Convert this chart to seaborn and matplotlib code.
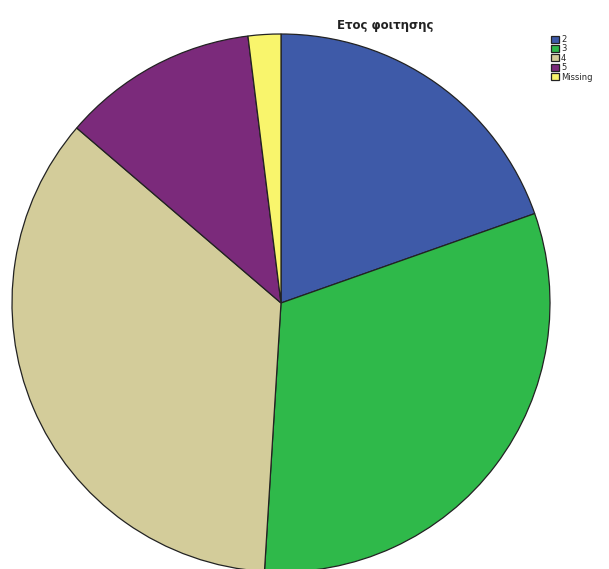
import matplotlib
matplotlib.use("Agg")
import matplotlib.pyplot as plt
import seaborn as sns

# Year of study, frequency counts
categories = ["2", "3", "4", "5", "Missing"]
counts = [10, 16, 18, 6, 1]
colors = ["#3e5aa8", "#2fb94a", "#d3cc9a", "#7b2a7b", "#f9f56c"]
title = "Ετος φοιτησης"

sns.set_style("white")
plt.rcParams["font.family"] = ["DejaVu Sans"]

W, H, DPI = 609, 569, 100
fig = plt.figure(figsize=(W / DPI, H / DPI), dpi=DPI)

cx, cy, r = 281, 303, 269
ax = fig.add_axes([(cx - r) / W, (H - cy - r) / H, 2 * r / W, 2 * r / H])

wedges, _ = ax.pie(
    counts,
    colors=colors,
    startangle=90,
    counterclock=False,
    wedgeprops=dict(edgecolor="#222222", linewidth=0.9),
)
ax.set_aspect("equal")
ax.set_xlim(-1, 1)
ax.set_ylim(-1, 1)
ax.axis("off")

fig.text(385 / W, 1 - 25 / H, title, ha="center", va="center",
         fontsize=8.5, fontweight="bold", color="#222222")

fig.legend(
    wedges, categories,
    loc="upper left", bbox_to_anchor=(551 / W, 1 - 35 / H),
    frameon=False, fontsize=6, handlelength=0.9, handleheight=0.9,
    handletextpad=0.3, labelspacing=0.05, borderaxespad=0, borderpad=0,
)

fig.savefig("out.png", dpi=DPI)
